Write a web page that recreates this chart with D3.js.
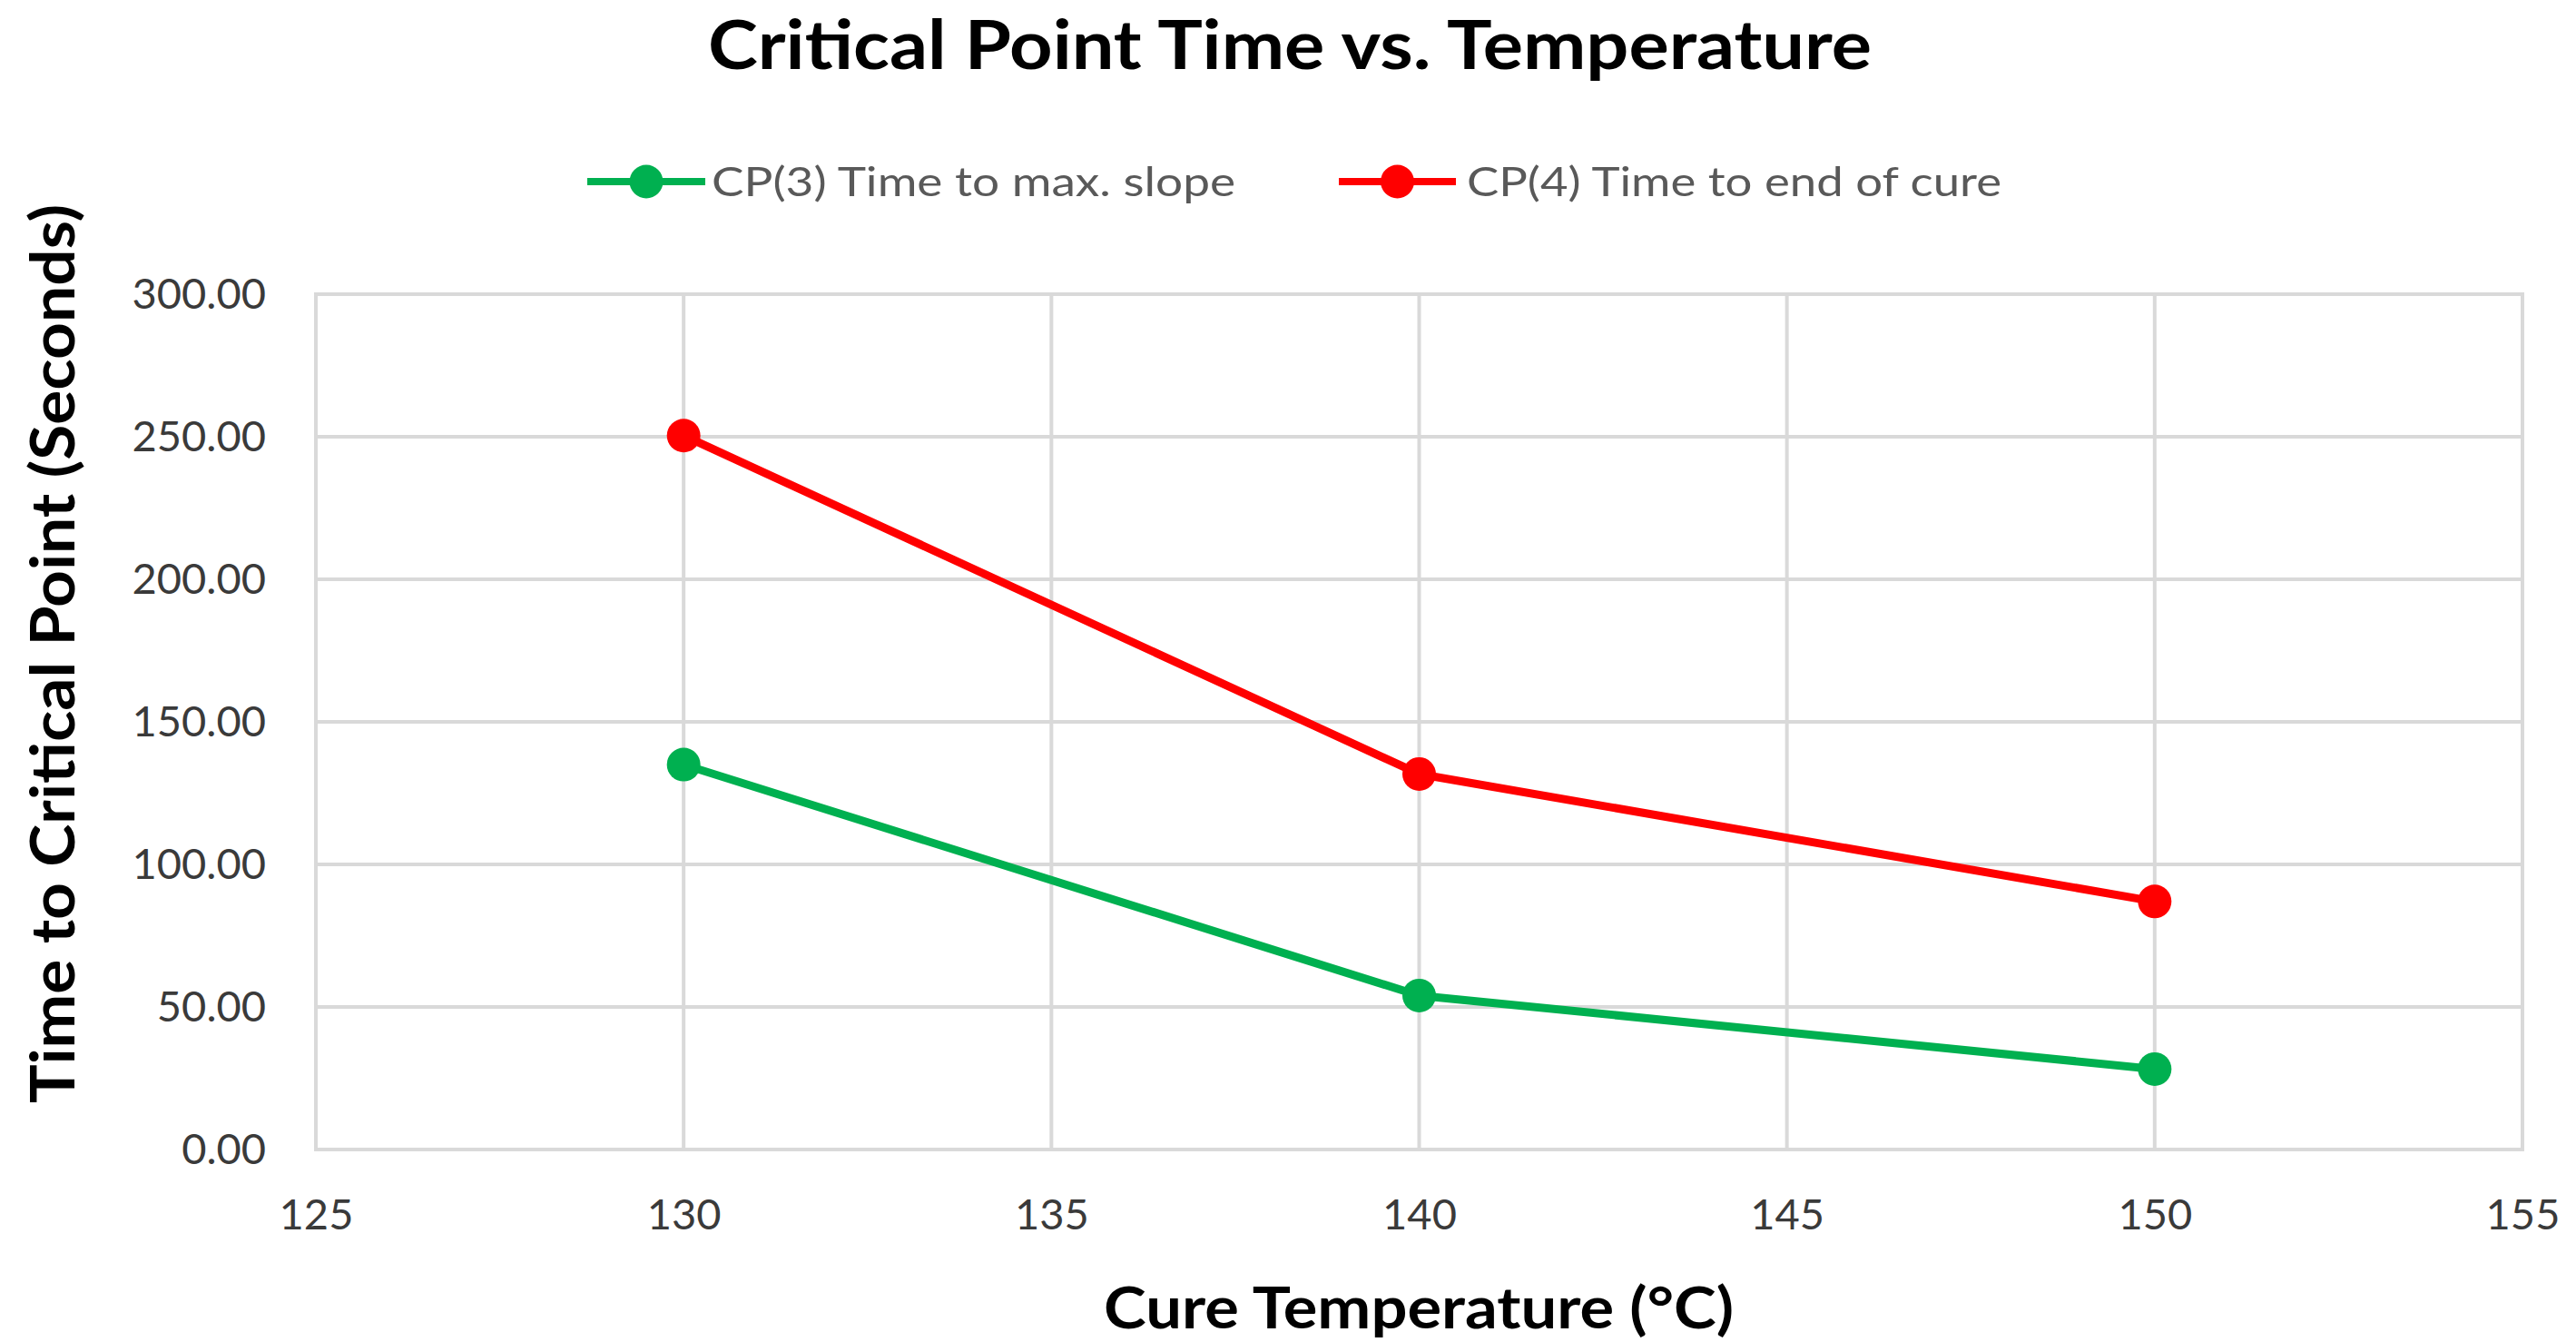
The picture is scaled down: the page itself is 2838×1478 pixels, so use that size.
<!DOCTYPE html>
<html>
<head>
<meta charset="utf-8">
<script src="https://cdn.jsdelivr.net/npm/d3@7"></script>
<style>
  html, body { margin: 0; padding: 0; background: #ffffff; }
  svg { display: block; }
  text { font-family: Lato, "Open Sans", "Noto Sans", sans-serif; }
</style>
</head>
<body>
<svg id="chart" width="2838" height="1478"></svg>
<script>
// Cure temperatures (°C)
const temperatures = [130, 140, 150];
// Time to maximum slope, CP(3), seconds
const cp3Times = [135.0, 54.0, 28.2];
// Time to end of cure, CP(4), seconds
const cp4Times = [250.4, 131.7, 87.0];

const seriesNames = ["CP(3) Time to max. slope", "CP(4) Time to end of cure"];
const seriesColors = ["#00b050", "#ff0000"];

const xTicks = [125, 130, 135, 140, 145, 150, 155];
const yTicks = [0, 50, 100, 150, 200, 250, 300];

const titleText = "Critical Point Time vs. Temperature";
const xTitleText = "Cure Temperature (°C)";
const yTitleText = "Time to Critical Point (Seconds)";

const svg = d3.select("#chart");
const plot = { left: 348, right: 2779, top: 324, bottom: 1266 };

const x = d3.scaleLinear().domain([125, 155]).range([plot.left, plot.right]);
const y = d3.scaleLinear().domain([0, 300]).range([plot.bottom, plot.top]);

const gridColor = "#d9d9d9";
const gridWidth = 4;

// Gridlines
const grid = svg.append("g");
grid.selectAll("line.v").data(xTicks).join("line")
  .attr("x1", d => x(d)).attr("x2", d => x(d))
  .attr("y1", plot.top).attr("y2", plot.bottom)
  .attr("stroke", gridColor).attr("stroke-width", gridWidth);
grid.selectAll("line.h").data(yTicks).join("line")
  .attr("x1", plot.left - gridWidth / 2).attr("x2", plot.right + gridWidth / 2)
  .attr("y1", d => y(d)).attr("y2", d => y(d))
  .attr("stroke", gridColor).attr("stroke-width", gridWidth);

// Axes (labels only)
const yAxis = d3.axisLeft(y).tickValues(yTicks).tickFormat(d3.format(".2f"))
  .tickSize(0).tickPadding(55);
const gy = svg.append("g").attr("transform", `translate(${plot.left},0)`).call(yAxis);
gy.select(".domain").remove();
gy.selectAll("text").attr("font-size", 47).attr("fill", "#3a3a3a")
  .style("font-family", "Lato, 'Open Sans', sans-serif");

const xAxis = d3.axisBottom(x).tickValues(xTicks).tickFormat(d3.format("d"))
  .tickSize(0).tickPadding(55);
const gx = svg.append("g").attr("transform", `translate(0,${plot.bottom})`).call(xAxis);
gx.select(".domain").remove();
gx.selectAll("text").attr("font-size", 47).attr("fill", "#3a3a3a")
  .style("font-family", "Lato, 'Open Sans', sans-serif");

// Series lines and markers
const series = [cp3Times, cp4Times].map((vals, i) => ({
  name: seriesNames[i],
  color: seriesColors[i],
  points: temperatures.map((t, j) => ({ t, v: vals[j] }))
}));

const line = d3.line().x(d => x(d.t)).y(d => y(d.v));
const gSeries = svg.append("g");
series.forEach(s => {
  gSeries.append("path").datum(s.points)
    .attr("d", line).attr("fill", "none")
    .attr("stroke", s.color).attr("stroke-width", 9)
    .attr("stroke-linejoin", "round");
  gSeries.selectAll(null).data(s.points).join("circle")
    .attr("cx", d => x(d.t)).attr("cy", d => y(d.v)).attr("r", 18.5)
    .attr("fill", s.color);
});

// Title
svg.append("text")
  .attr("x", 1421).attr("y", 76)
  .attr("text-anchor", "middle")
  .attr("font-size", 74).attr("font-weight", 700).attr("fill", "#000")
  .attr("textLength", 1282).attr("lengthAdjust", "spacingAndGlyphs")
  .text(titleText);

// Legend
const legendItems = [
  { x0: 647, x1: 777, tx: 784, tw: 577 },
  { x0: 1475, x1: 1604, tx: 1616, tw: 589 }
];
const legendY = 200;
const gLegend = svg.append("g");
series.forEach((s, i) => {
  const L = legendItems[i];
  gLegend.append("line")
    .attr("x1", L.x0).attr("x2", L.x1).attr("y1", legendY).attr("y2", legendY)
    .attr("stroke", s.color).attr("stroke-width", 8);
  gLegend.append("circle")
    .attr("cx", (L.x0 + L.x1) / 2).attr("cy", legendY).attr("r", 18.5)
    .attr("fill", s.color);
  gLegend.append("text")
    .attr("x", L.tx).attr("y", legendY + 16)
    .attr("font-size", 44).attr("fill", "#595959")
    .attr("textLength", L.tw).attr("lengthAdjust", "spacingAndGlyphs")
    .text(s.name);
});

// Axis titles
svg.append("text")
  .attr("x", 1563).attr("y", 1463)
  .attr("text-anchor", "middle")
  .attr("font-size", 64).attr("font-weight", 700).attr("fill", "#000")
  .attr("textLength", 694).attr("lengthAdjust", "spacingAndGlyphs")
  .text(xTitleText);

svg.append("text")
  .attr("transform", "translate(82,720) rotate(-90)")
  .attr("text-anchor", "middle")
  .attr("font-size", 66).attr("font-weight", 700).attr("fill", "#000")
  .attr("textLength", 990).attr("lengthAdjust", "spacingAndGlyphs")
  .text(yTitleText);
</script>
</body>
</html>
